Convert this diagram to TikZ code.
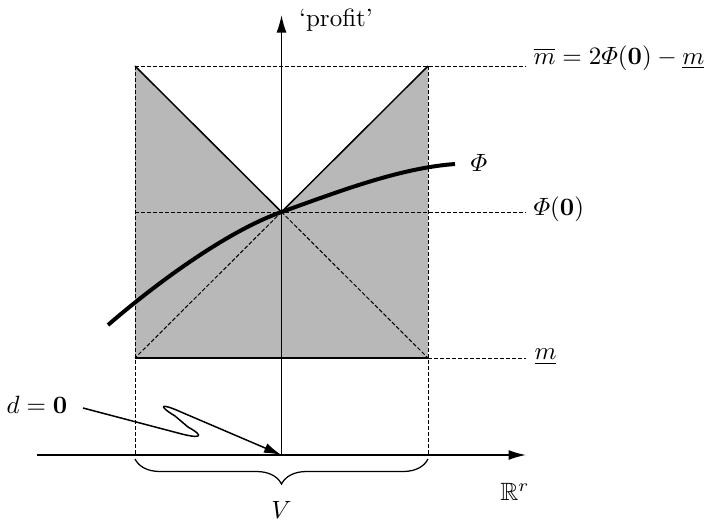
\documentclass[tikz,border=0pt]{standalone}
\usepackage{amsmath,amssymb}
\usetikzlibrary{arrows.meta,decorations.pathreplacing}
\begin{document}
\begin{tikzpicture}[x=0.4pt,y=-0.4pt,
  thindash/.style={line width=0.4pt, dash pattern=on 1.6pt off 0.8pt},
  axisline/.style={line width=0.6pt, -{Latex[length=7pt,width=4pt]}},
  solidline/.style={line width=0.6pt},
  lbl/.style={inner sep=0pt}]
\useasboundingbox (0,0) rectangle (707,522);
% key points
\coordinate (TL) at (135,66);
\coordinate (TR) at (428,66);
\coordinate (C)  at (281.5,212);
\coordinate (BL) at (135,358);
\coordinate (BR) at (428,358);
\coordinate (AL) at (135,455);
\coordinate (AR) at (428,455);
\coordinate (O)  at (281.5,455);
\coordinate (Ytip) at (281.5,15);
\coordinate (Xs) at (37,455);
\coordinate (Xtip) at (526,455);
\coordinate (E1) at (526,66);
\coordinate (E2) at (526,212);
\coordinate (E3) at (526,358);
\coordinate (ML) at (135,212);
% shading
\fill[black!28] (TL) -- (C) -- (TR) -- (BR) -- (BL) -- cycle;
% dashed lines
\draw[thindash] (TL) -- (AL);
\draw[thindash] (TR) -- (AR);
\draw[thindash] (TL) -- (E1);
\draw[thindash] (ML) -- (E2);
\draw[thindash] (BR) -- (E3);
\draw[thindash] (C) -- (BL);
\draw[thindash] (C) -- (BR);
% solid lines
\draw[solidline] (TL) -- (C) -- (TR);
\draw[solidline] (BL) -- (BR);
% axes
\draw[axisline] (O) -- (Ytip);
\draw[axisline] (Xs) -- (Xtip);
% curve Phi
\coordinate (P0) at (108,325);
\coordinate (P1) at (455,164);
\draw[line width=1.6pt] (P0) .. controls (160,280) and (230,230) .. (C)
  .. controls (340,191) and (400,168) .. (P1);
% brace
\draw[line width=0.5pt, decorate, decoration={brace, mirror, amplitude=10pt}]
  (135,459) -- (428,459);
% labels
\node[lbl] (profit) at (336,20) {`profit'};
\node[lbl, anchor=west] (mbar) at (533,58) {$\overline{m}=2\varPhi(\mathbf{0})-\underline{m}$};
\node[lbl] (phi) at (479,163) {$\varPhi$};
\node[lbl, anchor=west] (phi0) at (533,209) {$\varPhi(\mathbf{0})$};
\node[lbl, anchor=west] (mlow) at (534,357) {$\underline{m}$};
\node[lbl] (Rr) at (515,492) {$\mathbb{R}^r$};
\node[lbl] (V) at (281.5,510) {$V$};
\node[lbl] (d0) at (37,405) {$d=\mathbf{0}$};
% lightning arrow
\coordinate (Ls) at (83,408);
\draw[line width=0.6pt, -{Latex[length=7pt,width=4pt]}]
  (Ls) -- (178,433) .. controls (200,439) and (206,437) .. (188,427)
  -- (175,416) .. controls (157,405) and (161,403) .. (181,412) -- (O);
\end{tikzpicture}
\end{document}
